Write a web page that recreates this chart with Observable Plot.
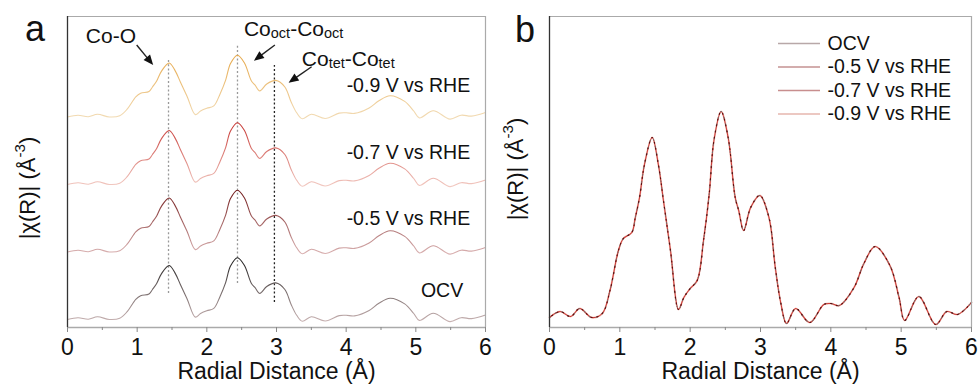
<!DOCTYPE html>
<html><head><meta charset="utf-8">
<script src="https://cdn.jsdelivr.net/npm/d3@7"></script>
<script src="https://cdn.jsdelivr.net/npm/@observablehq/plot@0.6"></script>
<style>
body{margin:0;background:#fff}
#wrap{position:relative;width:979px;height:391px;overflow:hidden}
#wrap svg{position:absolute;top:0}
</style></head><body><div id="wrap"></div>
<script>
// ---- data (panel b scale) ----
const radius = [0,0.15,0.30,0.43,0.60,0.75,0.86,0.98,1.05,1.17,1.22,1.28,1.35,1.46,1.55,1.62,1.72,1.835,1.91,2.00,2.10,2.19,2.27,2.34,2.44,2.54,2.64,2.69,2.76,2.86,2.99,3.12,3.21,3.29,3.37,3.50,3.70,3.90,4.00,4.12,4.33,4.47,4.63,4.84,4.97,5.05,5.25,5.49,5.65,5.80,6.00];
const chi = [0.10,0.16,0.11,0.19,0.10,0.14,0.37,0.77,0.89,0.95,1.10,1.30,1.63,1.90,1.62,1.27,0.77,0.18,0.30,0.39,0.47,0.87,1.33,1.88,2.16,1.90,1.30,1.17,0.97,1.20,1.32,1.10,0.60,0.24,0.04,0.19,0.05,0.23,0.24,0.22,0.40,0.64,0.81,0.62,0.30,0.07,0.31,0.03,0.16,0.13,0.25];
const series = ["OCV","-0.5 V vs RHE","-0.7 V vs RHE","-0.9 V vs RHE"];
const peakR = [1.45, 2.44, 2.97];
const xTicks = [0,1,2,3,4,5,6];
const xMinorTicks = [0.5,1.5,2.5,3.5,4.5,5.5];

// ---- presentation ----
const font = "Arial, 'Liberation Sans', sans-serif";
const yDomain = [0, 3.11];
const stackBase = 0.05, stackStep = 0.675, stackScale = 0.3;
const gradColors = [["#c8b2b2","#1c1c1c"],["#dab2b2","#701818"],["#f2cac2","#c63430"],["#f2dcb6","#e6a84a"]];
const legendColors = ["#b8a8a8","#c49292","#c88e8e","#e6b6ae"];
const ruleY1 = [0.34,0.44,0.25], ruleY2 = [2.67,2.82,2.62];
const ruleColor = ["#999","#999","#222"];

const rows = radius.map((r,i)=>({r, chi: chi[i]}));
const wrap = document.getElementById("wrap");

function baseAxes(){
  return [
    Plot.ruleY([yDomain[1]], {stroke:"#aaa", strokeWidth:1.2}),
    Plot.ruleX([6], {stroke:"#aaa", strokeWidth:1.2}),
    Plot.ruleY([0], {stroke:"#aaa", strokeWidth:1.5}),
    Plot.ruleX([0], {stroke:"#333", strokeWidth:1.3}),
    Plot.axisX({ticks: xTicks, tickSize:5, tickPadding:6, fontSize:23, stroke:"#888", fill:"#111", label:null, tickFormat:d=>String(d)}),
    Plot.axisX({ticks: xMinorTicks, tickSize:3, stroke:"#888", label:null, tickFormat:()=>""}),
    Plot.text([0], {frameAnchor:"bottom", dy:51, text:()=>"Radial Distance (Å)", fontSize:23, fill:"#111"})
  ];
}

// ---- panel a ----
const plotA = Plot.plot({
  width:490, height:391, marginLeft:67, marginRight:5, marginTop:16, marginBottom:64,
  x:{domain:[0,6], label:null}, y:{domain:yDomain, axis:null},
  style:{fontFamily:font, background:"transparent", overflow:"visible"},
  marks:[
    ...peakR.map((r,i)=>Plot.ruleX([r], {y1:ruleY1[i], y2:ruleY2[i], stroke:ruleColor[i], strokeWidth:1.3, strokeDasharray:"2,2.2"})),
    ...series.map((s,i)=>Plot.line(rows, {x:"r", y:d=>stackBase+i*stackStep+stackScale*d.chi, stroke:`url(#gradA${i})`, strokeWidth:1.1, curve:"catmull-rom"})),
    Plot.text(series, {x:(d,i)=> i===0 ? 5.68 : 5.78, y:(d,i)=>[0.37,1.09,1.75,2.42][i], text:d=>d, textAnchor:"end", fontSize:19.5, fill:"#111"}),
    ...baseAxes()
  ]
});
plotA.style.left = "0px";
wrap.appendChild(plotA);

// ---- panel b ----
const plotB = Plot.plot({
  width:489, height:391, marginLeft:59, marginRight:8, marginTop:16, marginBottom:64,
  x:{domain:[0,6], label:null}, y:{domain:yDomain, axis:null},
  style:{fontFamily:font, background:"transparent", overflow:"visible"},
  marks:[
    Plot.line(rows, {x:"r", y:"chi", stroke:"#f0c6be", strokeWidth:1.9, curve:"catmull-rom"}),
    Plot.line(rows, {x:"r", y:"chi", stroke:"#cc3a36", strokeWidth:1.05, curve:"catmull-rom"}),
    Plot.line(rows, {x:"r", y:"chi", stroke:"#7a6a6a", strokeWidth:1.1, strokeDasharray:"1,6", curve:"catmull-rom"}),
    Plot.line(rows, {x:"r", y:"chi", stroke:"#5a1010", strokeWidth:1.2, strokeDasharray:"1,5", strokeDashoffset:3, curve:"catmull-rom"}),
    Plot.ruleY(series, {y:(d,i)=>2.84-i*0.235, x1:3.256, x2:3.853, stroke:(d,i)=>legendColors[i], strokeWidth:1.4}),
    Plot.text(series, {x:3.953, y:(d,i)=>2.84-i*0.235, text:d=>d, textAnchor:"start", fontSize:19.5, fill:"#111"}),
    ...baseAxes()
  ]
});
plotB.style.left = "490px";
wrap.appendChild(plotB);

// ---- helpers using the plots' own scales ----
function scales(p){
  const sx = p.scale("x"), sy = p.scale("y");
  return [d3.scaleLinear(sx.domain, sx.range), d3.scaleLinear(sy.domain, sy.range)];
}
function richText(svg, x, y, parts, size, anchor, rotate){
  const t = d3.select(svg).append("text")
    .attr("transform", `translate(${x},${y})` + (rotate ? ` rotate(${rotate})` : ""))
    .attr("font-size", size).attr("font-family", font).attr("fill","#111")
    .attr("text-anchor", anchor || "start").attr("dominant-baseline","central");
  let cur = 0;
  for (const [txt, kind] of parts){
    const target = kind === "sub" ? size*0.26 : kind === "sup" ? -size*0.38 : 0;
    const ts = t.append("tspan").text(txt).attr("dy", target - cur);
    if (kind) ts.attr("font-size", size*0.69);
    cur = target;
  }
  return t;
}
function arrow(svg, sx, sy, x1, y1, x2, y2){
  const ax = sx(x1), ay = sy(y1), bx = sx(x2), by = sy(y2);
  const dx = bx-ax, dy = by-ay, L = Math.hypot(dx,dy), ux = dx/L, uy = dy/L;
  const hl = 10, hw = 4.2;
  const cx = bx-ux*hl, cy = by-uy*hl;
  const g = d3.select(svg).append("g");
  g.append("line").attr("x1",ax).attr("y1",ay).attr("x2",cx+ux*2).attr("y2",cy+uy*2).attr("stroke","#222").attr("stroke-width",1.4);
  g.append("path").attr("d",`M${bx},${by}L${cx-uy*hw},${cy+ux*hw}L${cx+uy*hw},${cy-ux*hw}Z`).attr("fill","#111");
}

// panel a extras
{
  const [sx, sy] = scales(plotA);
  const defs = d3.select(plotA).append("defs");
  const lo = d3.min(chi), hi = d3.max(chi);
  series.forEach((s,i)=>{
    const g = defs.append("linearGradient").attr("id",`gradA${i}`).attr("gradientUnits","userSpaceOnUse")
      .attr("x1",0).attr("x2",0)
      .attr("y1", sy(stackBase+i*stackStep+stackScale*lo)).attr("y2", sy(stackBase+i*stackStep+stackScale*hi));
    g.append("stop").attr("offset","0").attr("stop-color",gradColors[i][0]);
    g.append("stop").attr("offset","1").attr("stop-color",gradColors[i][1]);
  });
  richText(plotA, sx(0.631), sy(2.92), [["Co-O"]], 21, "middle");
  richText(plotA, sx(2.54), sy(2.995), [["Co"],["oct","sub"],["-Co"],["oct","sub"]], 21, "start");
  richText(plotA, sx(3.37), sy(2.695), [["Co"],["tet","sub"],["-Co"],["tet","sub"]], 21, "start");
  arrow(plotA, sx, sy, 1.00, 2.82, 1.237, 2.62);
  arrow(plotA, sx, sy, 2.984, 2.82, 2.683, 2.663);
  arrow(plotA, sx, sy, 3.511, 2.603, 3.181, 2.443);
  richText(plotA, 27, 188, [["|χ(R)| (Å"],["-3","sup"],[")"]], 22, "middle", -90);
  richText(plotA, 35, 28, [["a"]], 36, "middle");
}
// panel b extras
{
  richText(plotB, 25, 169, [["|χ(R)| (Å"],["-3","sup"],[")"]], 22, "middle", -90);
  richText(plotB, 35, 29, [["b"]], 36, "middle");
}
</script></body></html>
